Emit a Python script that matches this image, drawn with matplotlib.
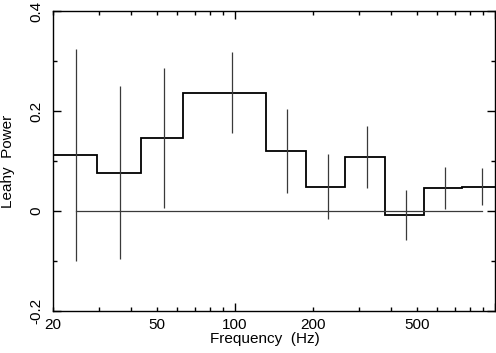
import numpy as np
import matplotlib
matplotlib.use("Agg")
import matplotlib.pyplot as plt
from matplotlib.ticker import FixedLocator, FixedFormatter

plt.rcParams['font.family'] = ['Liberation Sans', 'DejaVu Sans']
plt.rcParams['axes.unicode_minus'] = False

# bin edges (Hz)
edges = [20, 29.4, 43.4, 63.3, 131.5, 187.7, 266, 378, 533, 749, 1000]
centers = [24.6, 36.3, 53.5, 97.2, 159, 228, 322, 456, 642, 890]
power = [0.113, 0.077, 0.147, 0.237, 0.120, 0.049, 0.108, -0.008, 0.046, 0.049]
err = [0.212, 0.173, 0.140, 0.081, 0.084, 0.065, 0.062, 0.050, 0.042, 0.037]

xlabels = {20: "20", 50: "50", 100: "100", 200: "200", 500: "500"}
yticks = [-0.2, 0, 0.2, 0.4]
ylabels = ["-0.2", "0", "0.2", "0.4"]

fig = plt.figure(figsize=(4.96, 3.53), dpi=100)
ax = fig.add_axes([53/496, 1-311/353, 442/496, 300/353])

ax.stairs(power, edges, baseline=None, color='black', lw=1.3)
ax.errorbar(centers, power, yerr=err, fmt='none', ecolor='#3a3a3a', elinewidth=0.9, capsize=0)
ax.plot([centers[0], centers[-1]], [0, 0], color='#3a3a3a', lw=0.9)

ax.set_xscale('log')
ax.set_xlim(20, 1000)
ax.set_ylim(-0.2, 0.4)

# long ticks only at decades, short ticks elsewhere
ax.xaxis.set_major_locator(FixedLocator([100, 1000]))
minor = [20, 30, 40, 50, 60, 70, 80, 90, 200, 300, 400, 500, 600, 700, 800, 900]
ax.xaxis.set_minor_locator(FixedLocator(minor))
ax.xaxis.set_major_formatter(FixedFormatter(["100", ""]))
ax.xaxis.set_minor_formatter(FixedFormatter([xlabels.get(m, "") for m in minor]))

ax.set_yticks(yticks)
ax.set_yticklabels(ylabels, rotation=90, va='center')
ax.set_yticks([-0.1, 0.1, 0.3], minor=True)

ax.tick_params(which='both', direction='in', top=True, right=True, width=1, labelsize=11, colors='black')
ax.tick_params(which='major', length=6)
ax.tick_params(which='minor', length=3)
ax.tick_params(axis='x', which='both', pad=5)
ax.tick_params(axis='y', which='both', pad=7)

for s in ax.spines.values():
    s.set_linewidth(1)

fig.text(265/496, 1-343/353, "Frequency  (Hz)", ha='center', va='baseline', fontsize=11)
fig.text(8/496, 1 - 161/353, "Leahy  Power", rotation=90, ha='center', va='center', fontsize=11)

fig.savefig("out.png", dpi=100)
